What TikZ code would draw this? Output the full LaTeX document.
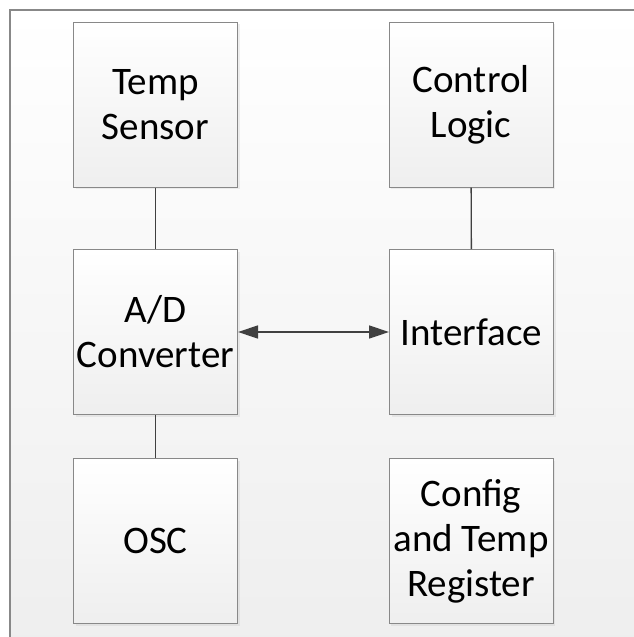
\documentclass[tikz,border=0pt]{standalone}
\usepackage{fontspec}
\setmainfont{Carlito}
\usepackage{tikz}
\usetikzlibrary{arrows.meta,shadows}

\definecolor{boxline}{HTML}{888888}
\definecolor{wire}{HTML}{404040}

\tikzset{
  block/.style={draw=boxline, line width=1pt, top color=white, bottom color=gray!13,
    minimum width=164pt, minimum height=165pt, inner sep=0pt, align=center,
    font=\fontsize{39}{45}\selectfont,
    drop shadow={opacity=0.12, shadow xshift=2pt, shadow yshift=-2pt}},
  wire/.style={draw=wire, line width=1.4pt}
}

\begin{document}
\begin{tikzpicture}[x=1pt,y=-1pt]
\useasboundingbox (0,0) rectangle (634,637);
% background frame
\shade[top color=white, bottom color=gray!13] (10,10) rectangle (634,637);
\draw[boxline, line width=1.2pt] (10,637) -- (10,10) -- (634,10);

\node[block] (sensor) at (155.5,104.5) {Temp\\Sensor};
\node[block] (logic) at (471,104.5) {Control\\Logic};
\node[block] (adc) at (155.5,332) {A/D\\Converter};
\node[block] (iface) at (471.5,332) {Interface};
\node[block] (osc) at (155.5,541) {OSC};
\node[block] (reg) at (471,541) {Config\\and Temp\\Register};

\draw[wire] (sensor) -- (adc);
\draw[wire] (adc) -- (osc);
\draw[wire] (logic) -- (iface);
\draw[wire, {Triangle[length=20pt,width=13pt]}-{Triangle[length=20pt,width=13pt]}] (adc) -- (iface);
\end{tikzpicture}
\end{document}
